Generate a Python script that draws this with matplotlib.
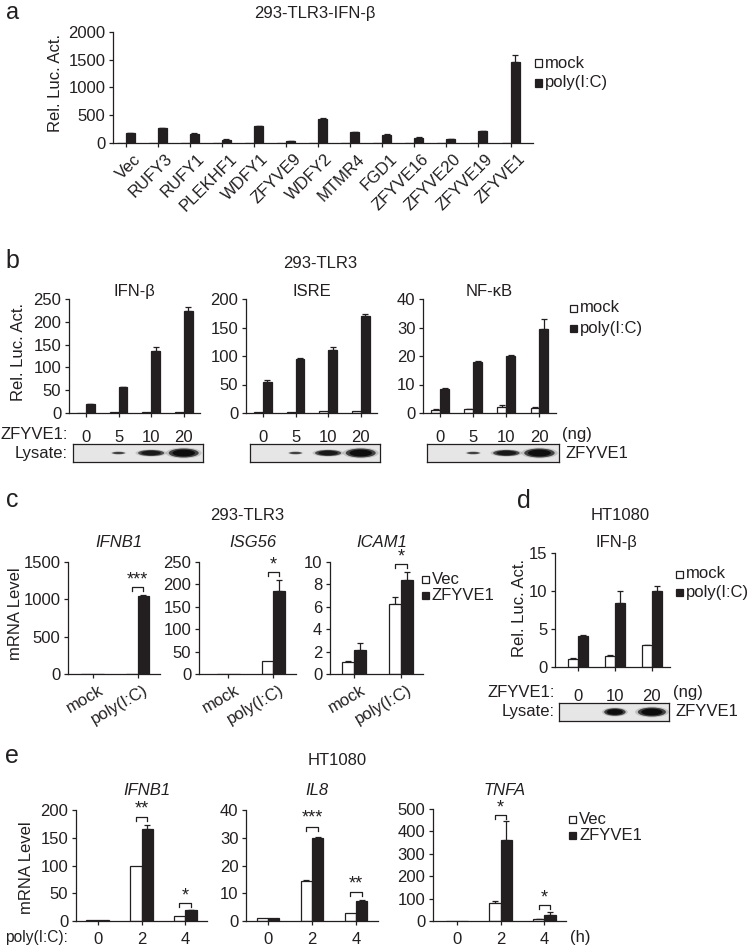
import matplotlib
matplotlib.use('Agg')
import matplotlib.pyplot as plt
from matplotlib.patches import Rectangle, Ellipse
import matplotlib.transforms as mtransforms
from matplotlib import font_manager
import numpy as np

# ---------------- data ----------------
a_cats = ["Vec", "RUFY3", "RUFY1", "PLEKHF1", "WDFY1", "ZFYVE9", "WDFY2", "MTMR4",
          "FGD1", "ZFYVE16", "ZFYVE20", "ZFYVE19", "ZFYVE1"]
a_mock = [4, 4, 4, 8, 4, 4, 4, 4, 8, 6, 4, 4, 6]
a_poly = [180, 264, 168, 60, 300, 36, 438, 198, 144, 96, 72, 210, 1452]
a_poly_err = [8, 10, 8, 5, 10, 5, 8, 8, 20, 5, 5, 8, 140]

b_doses = ["0", "5", "10", "20"]
b_ifn_mock = [1, 2, 2, 3]
b_ifn_poly = [19, 56, 135, 224]
b_ifn_poly_err = [1, 1, 9, 9]
b_isre_mock = [1, 1, 3, 3]
b_isre_poly = [54, 95, 110, 171]
b_isre_poly_err = [4, 1, 6, 2]
b_nfkb_mock = [1.2, 1.3, 2.0, 1.8]
b_nfkb_mock_err = [0.1, 0.1, 0.8, 0.3]
b_nfkb_poly = [8.5, 18, 20, 29.6]
b_nfkb_poly_err = [0.2, 0.3, 0.2, 3.3]
b_blot_width = [0, 0.4, 0.8, 0.92]
b_blot_height = [0, 0.14, 0.34, 0.5]
b_blot_dark = [0, 0.8, 0.95, 1.0]

c_groups = ["mock", "poly(I:C)"]
c_ifnb1_vec = [1, 5]
c_ifnb1_z = [3, 1050]
c_ifnb1_z_err = [0, 6]
c_isg56_vec = [1, 28]
c_isg56_z = [1, 185]
c_isg56_z_err = [0, 24]
c_icam1_vec = [1.07, 6.24]
c_icam1_vec_err = [0.1, 0.6]
c_icam1_z = [2.16, 8.43]
c_icam1_z_err = [0.6, 0.67]

d_doses = ["0", "10", "20"]
d_mock = [1.1, 1.5, 2.85]
d_mock_err = [0.15, 0.1, 0.05]
d_poly = [4.05, 8.4, 10.0]
d_poly_err = [0.1, 1.6, 0.6]
d_blot_width = [0, 0.58, 0.76]
d_blot_height = [0, 0.42, 0.5]
d_blot_dark = [0, 1.0, 1.0]

e_times = ["0", "2", "4"]
e_ifnb1_vec = [1, 100, 9]
e_ifnb1_z = [1, 165, 19]
e_ifnb1_z_err = [0, 8, 1.5]
e_il8_vec = [1.1, 14.5, 3.0]
e_il8_vec_err = [0, 0.2, 0]
e_il8_z = [1.0, 29.8, 7.3]
e_il8_z_err = [0, 0.6, 0.2]
e_tnfa_vec = [2, 82, 7]
e_tnfa_vec_err = [0, 8, 1]
e_tnfa_z = [2, 362, 28]
e_tnfa_z_err = [0, 83, 10]

# ---------------- setup ----------------
W, H, DPI = 750, 949, 100
names = {f.name for f in font_manager.fontManager.ttflist}
BASE = 'Liberation Sans' if 'Liberation Sans' in names else 'DejaVu Sans'
plt.rcParams['font.family'] = [BASE, 'DejaVu Sans']
plt.rcParams['font.size'] = 12
INK = '#231f20'
LW = 0.9
FS = 12

fig = plt.figure(figsize=(W / DPI, H / DPI), dpi=DPI)
fig.patch.set_facecolor('white')


def px_axes(l, t, r, b):
    return fig.add_axes([l / W, 1 - b / H, (r - l) / W, (b - t) / H])


def ftext(x, y, s, **kw):
    kw.setdefault('color', INK)
    kw.setdefault('fontsize', FS)
    fig.text(x / W, 1 - y / H, s, **kw)


def style(ax, ymax, yticks, xlim, xticks, xlabels, pad_x=3):
    ax.set_ylim(0, ymax)
    ax.set_xlim(*xlim)
    for s in ('top', 'right'):
        ax.spines[s].set_visible(False)
    for s in ('left', 'bottom'):
        ax.spines[s].set_linewidth(LW)
        ax.spines[s].set_color(INK)
    ax.patch.set_alpha(0)
    ax.set_yticks(yticks)
    ax.set_xticks(xticks)
    ax.set_xticklabels(xlabels)
    ax.tick_params(axis='both', length=3, width=LW, color=INK, labelcolor=INK,
                   labelsize=FS, direction='out')
    ax.tick_params(axis='y', pad=2.5)
    ax.tick_params(axis='x', pad=pad_x)


def errs(ax, x, y, e):
    x = np.asarray(x, float); y = np.asarray(y, float); e = np.asarray(e, float)
    m = e > 0
    if m.any():
        ax.errorbar(x[m], y[m], yerr=[np.zeros(m.sum()), e[m]], fmt='none',
                    ecolor=INK, elinewidth=LW, capsize=2.2, capthick=LW, zorder=1)


def bars(ax, w, a, b, a_err=None, b_err=None):
    x = np.arange(len(a))
    ax.bar(x - w / 2, a, w, color='white', edgecolor=INK, linewidth=LW, zorder=2)
    ax.bar(x + w / 2, b, w, color=INK, edgecolor=INK, linewidth=LW, zorder=2)
    if a_err is not None:
        errs(ax, x - w / 2, a, a_err)
    if b_err is not None:
        errs(ax, x + w / 2, b, b_err)
    return x


def legend(x, ys, labels, fills):
    for y, lab, fc in zip(ys, labels, fills):
        fig.add_artist(Rectangle(((x - 3.5) / W, 1 - (y + 3.5) / H), 7 / W, 7 / H,
                                 transform=fig.transFigure, facecolor=fc,
                                 edgecolor=INK, linewidth=LW))
        ftext(x + 7, y, lab, ha='left', va='center')


def sig(ax, x, w, y, leg, ystar, s):
    ax.plot([x - w / 2, x - w / 2, x + w / 2, x + w / 2], [y - leg, y, y, y - leg],
            color=INK, lw=LW, clip_on=False, zorder=3)
    ax.text(x, ystar, s, ha='center', va='center', fontsize=13, color=INK, clip_on=False)


def blot(l, t, r, b, bar_l, bar_r, xlim, widths, heights, dark):
    unit = (bar_r - bar_l) / (xlim[1] - xlim[0])
    ax = px_axes(l, t, r, b)
    ax.set_xlim(xlim[0] + (l - bar_l) / unit, xlim[0] + (r - bar_l) / unit)
    ax.set_ylim(0, 1)
    ax.set_facecolor('#e6e6e6')
    ax.set_xticks([]); ax.set_yticks([])
    for s in ax.spines.values():
        s.set_linewidth(LW); s.set_color(INK)
    for i, (wd, ht, dk) in enumerate(zip(widths, heights, dark)):
        if ht <= 0:
            continue
        for sc, al, g0 in [(1.2, 0.3, 0.45), (1.0, 0.9, 0.2), (0.75, 1.0, 0.05)]:
            g = 1 - dk * (1 - g0)
            ax.add_patch(Ellipse((i, 0.5), wd * sc, ht * sc, facecolor=str(g),
                                 edgecolor='none', alpha=al))
    return ax


def xshift(ax, dx_px, dy_px=0):
    off = mtransforms.ScaledTranslation(dx_px / DPI, dy_px / DPI, fig.dpi_scale_trans)
    for lab in ax.get_xticklabels():
        lab.set_transform(lab.get_transform() + off)


# ---------------- panel a ----------------
ax = px_axes(113, 32, 533, 143)
xa = bars(ax, 0.28, a_mock, a_poly, None, a_poly_err)
style(ax, 2000, [0, 500, 1000, 1500, 2000], (-0.4, 12.7), xa, a_cats, pad_x=3)
for lab in ax.get_xticklabels():
    lab.set_rotation(45); lab.set_ha('right'); lab.set_rotation_mode('anchor')
xshift(ax, 7)
ftext(55, 83, "Rel. Luc. Act.", rotation=90, ha='center', va='center')
ftext(315, 18, "293-TLR3-IFN-\u03b2", ha='center', va='baseline')
ftext(13, 19, "a", fontsize=17, ha='center', va='baseline')
legend(538, [63, 83], ["mock", "poly(I:C)"], ['white', INK])

# ---------------- panel b ----------------
bx = (-0.52, 3.5)
specs_b = [
    ((69, 200), 250, [0, 50, 100, 150, 200, 250], b_ifn_mock, None, b_ifn_poly, b_ifn_poly_err, "IFN-\u03b2"),
    ((246, 377), 200, [0, 50, 100, 150, 200], b_isre_mock, None, b_isre_poly, b_isre_poly_err, "ISRE"),
    ((423, 556), 40, [0, 10, 20, 30, 40], b_nfkb_mock, b_nfkb_mock_err, b_nfkb_poly, b_nfkb_poly_err, "NF-\u03baB"),
]
for (l, r), ymax, yt, m, me, p, pe, title in specs_b:
    ax = px_axes(l, 299, r, 413)
    xb = bars(ax, 0.27, m, p, me, pe)
    style(ax, ymax, yt, bx, xb, b_doses, pad_x=9)
    ftext((l + r) / 2, 296, title, ha='center', va='baseline')
    blot(l + 4, 444, r + 3, 462, l, r, bx, b_blot_width, b_blot_height, b_blot_dark)
ftext(19, 352, "Rel. Luc. Act.", rotation=90, ha='center', va='center')
ftext(320, 268, "293-TLR3", ha='center', va='baseline')
ftext(12, 268, "b", fontsize=18, ha='center', va='baseline')
ftext(68, 439, "ZFYVE1:", ha='right', va='baseline')
ftext(68, 458, "Lysate:", ha='right', va='baseline')
ftext(562, 439, "(ng)", ha='left', va='baseline')
ftext(566, 458, "ZFYVE1", ha='left', va='baseline')
legend(573, [308, 328], ["mock", "poly(I:C)"], ['white', INK])

# ---------------- panel c ----------------
wc = 0.26
specs_c = [
    ((68, 160), (-0.55, 1.5), 1500, [0, 500, 1000, 1500], c_ifnb1_vec, None, c_ifnb1_z, c_ifnb1_z_err, "IFNB1"),
    ((199, 296), (-0.65, 1.5), 250, [0, 50, 100, 150, 200, 250], c_isg56_vec, None, c_isg56_z, c_isg56_z_err, "ISG56"),
    ((330, 423), (-0.52, 1.47), 10, [0, 2, 4, 6, 8, 10], c_icam1_vec, c_icam1_vec_err, c_icam1_z, c_icam1_z_err, "ICAM1"),
]
axes_c = []
for (l, r), xl, ymax, yt, v, ve, z, ze, title in specs_c:
    ax = px_axes(l, 562, r, 674)
    xc = bars(ax, wc, v, z, ve, ze)
    style(ax, ymax, yt, xl, xc, c_groups, pad_x=3)
    for lab in ax.get_xticklabels():
        lab.set_rotation(30); lab.set_ha('right'); lab.set_rotation_mode('anchor')
    xshift(ax, 6)
    ftext((l + r) / 2 + 5, 547, title, ha='center', va='baseline', style='italic')
    axes_c.append(ax)
sig(axes_c[0], 1, wc, 1165, 55, 1260, "***")
sig(axes_c[1], 1, wc, 228, 9, 243, "*")
sig(axes_c[2], 1, wc, 9.82, 0.36, 10.45, "*")
ftext(16, 614, "mRNA Level", rotation=90, ha='center', va='center')
ftext(247, 520, "293-TLR3", ha='center', va='baseline')
ftext(12, 507, "c", fontsize=18, ha='center', va='baseline')
legend(425, [579, 595], ["Vec", "ZFYVE1"], ['white', INK])

# ---------------- panel d ----------------
dx = (-0.62, 2.49)
ax = px_axes(555, 553, 670, 667)
xd = bars(ax, 0.27, d_mock, d_poly, d_mock_err, d_poly_err)
style(ax, 15, [0, 5, 10, 15], dx, xd, d_doses, pad_x=13)
blot(559, 703, 669, 721, 555, 670, dx, d_blot_width, d_blot_height, d_blot_dark)
ftext(520, 608, "Rel. Luc. Act.", rotation=90, ha='center', va='center')
ftext(620, 520, "HT1080", ha='center', va='baseline')
ftext(616, 547, "IFN-\u03b2", ha='center', va='baseline')
ftext(524, 508, "d", fontsize=18, ha='center', va='baseline')
ftext(555, 697, "ZFYVE1:", ha='right', va='baseline')
ftext(555, 716, "Lysate:", ha='right', va='baseline')
ftext(673, 697, "(ng)", ha='left', va='baseline')
ftext(675, 716, "ZFYVE1", ha='left', va='baseline')
legend(679, [574, 592], ["mock", "poly(I:C)"], ['white', INK])

# ---------------- panel e ----------------
we = 0.26
specs_e = [
    ((76, 207), (-0.5, 2.5), 810, 200, [0, 50, 100, 150, 200], e_ifnb1_vec, None, e_ifnb1_z, e_ifnb1_z_err, "IFNB1"),
    ((246, 378), (-0.5, 2.5), 810, 40, [0, 10, 20, 30, 40], e_il8_vec, e_il8_vec_err, e_il8_z, e_il8_z_err, "IL8"),
    ((433, 566), (-0.55, 2.5), 809, 500, [0, 100, 200, 300, 400, 500], e_tnfa_vec, e_tnfa_vec_err, e_tnfa_z, e_tnfa_z_err, "TNFA"),
]
axes_e = []
for (l, r), xl, top, ymax, yt, v, ve, z, ze, title in specs_e:
    ax = px_axes(l, top, r, 921)
    xe = bars(ax, we, v, z, ve, ze)
    style(ax, ymax, yt, xl, xe, e_times, pad_x=5)
    ftext((l + r) / 2 + 5, 795, title, ha='center', va='baseline', style='italic')
    axes_e.append(ax)
sig(axes_e[0], 1, we, 187, 7, 201, "**")
sig(axes_e[0], 2, we, 32, 7, 45, "*")
sig(axes_e[1], 1, we, 33.9, 1.4, 37.0, "***")
sig(axes_e[1], 2, we, 10.4, 1.4, 13.5, "**")
sig(axes_e[2], 1, we, 473, 18, 503, "*")
sig(axes_e[2], 2, we, 71, 18, 101, "*")
ftext(27, 868, "mRNA Level", rotation=90, ha='center', va='center')
ftext(337, 765, "HT1080", ha='center', va='baseline')
ftext(12, 763, "e", fontsize=18, ha='center', va='baseline')
ftext(68, 942, "poly(I:C):", ha='right', va='baseline', fontsize=11.2)
ftext(570, 942, "(h)", ha='left', va='baseline')
legend(572, [819, 835], ["Vec", "ZFYVE1"], ['white', INK])

fig.savefig("out.png", dpi=DPI, facecolor='white')
